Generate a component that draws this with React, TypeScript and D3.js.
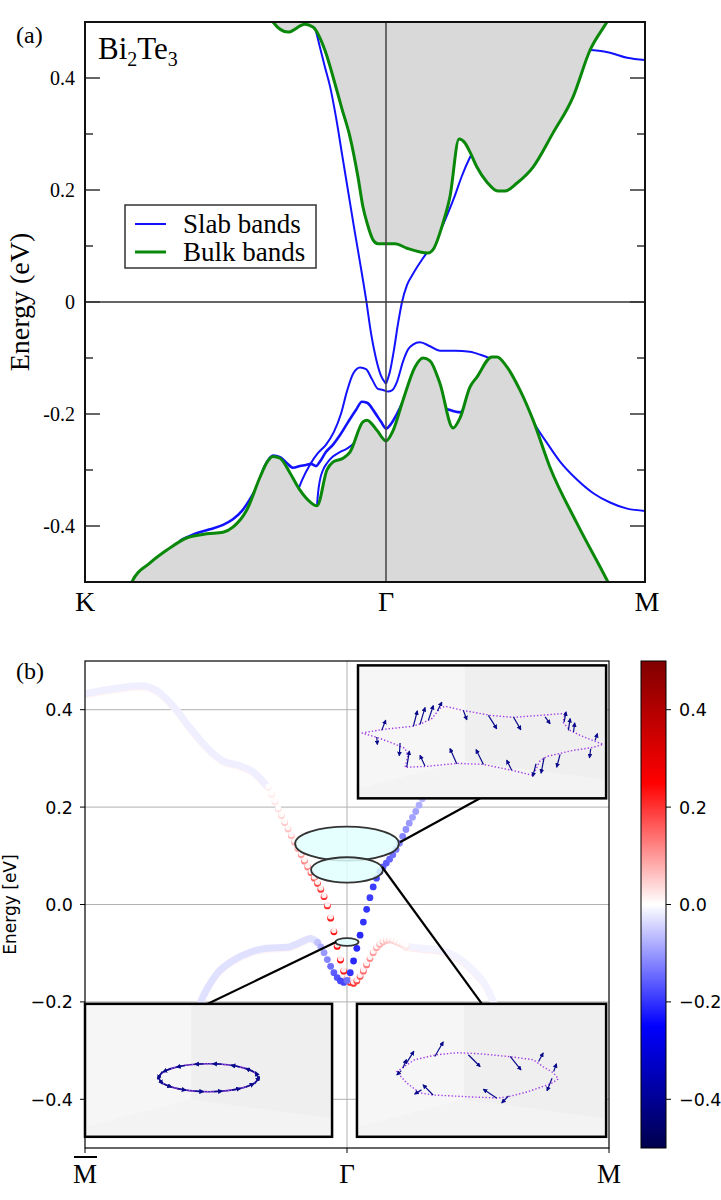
import React, { useEffect, useRef } from "react";
import * as d3 from "d3";

type Pt = [number, number];

// ---------- (a) slab vs bulk bands; k along K-Γ-M in units of |ΓM| ----------
const kPosA = [-1.162, 0, 1];
const kNamesA = ["K", "Γ", "M"];
const eMajorA = [0.4, 0.2, 0, -0.2, -0.4];
const eMajorLabelsA = ["0.4", "0.2", "0", "-0.2", "-0.4"];
const eMinorA = [0.3, 0.1, -0.1, -0.3];
const legendNames = ["Slab bands", "Bulk bands"];

const bulkCB: Pt[] = [
  [-0.45, 0.53], [-0.436, 0.5], [-0.378, 0.482], [-0.313, 0.496], [-0.282, 0.491],
  [-0.236, 0.45], [-0.197, 0.39], [-0.17, 0.345], [-0.139, 0.295], [-0.108, 0.223],
  [-0.089, 0.17], [-0.073, 0.141], [-0.05, 0.111], [-0.031, 0.104], [0, 0.104],
  [0.035, 0.104], [0.081, 0.096], [0.162, 0.0875], [0.181, 0.093], [0.22, 0.141],
  [0.247, 0.188], [0.282, 0.291], [0.305, 0.284], [0.324, 0.268], [0.351, 0.241],
  [0.39, 0.214], [0.432, 0.198], [0.459, 0.198], [0.506, 0.2125], [0.568, 0.241],
  [0.645, 0.302], [0.722, 0.366], [0.788, 0.45], [0.853, 0.5], [0.903, 0.54],
];

const bulkVB: Pt[] = [
  [-1.02, -0.56], [-0.981, -0.5], [-0.911, -0.466], [-0.846, -0.443], [-0.768, -0.421],
  [-0.691, -0.414], [-0.629, -0.411], [-0.591, -0.402], [-0.537, -0.371], [-0.486, -0.3125],
  [-0.459, -0.286], [-0.436, -0.276], [-0.409, -0.279], [-0.371, -0.305], [-0.332, -0.336],
  [-0.293, -0.357], [-0.266, -0.364], [-0.228, -0.3], [-0.205, -0.286], [-0.166, -0.279],
  [-0.139, -0.268], [-0.089, -0.214], [-0.073, -0.211], [-0.035, -0.229], [0, -0.248],
  [0.027, -0.23], [0.066, -0.175], [0.112, -0.116], [0.143, -0.1], [0.17, -0.105],
  [0.208, -0.145], [0.259, -0.225], [0.286, -0.207], [0.324, -0.152], [0.351, -0.134],
  [0.409, -0.098], [0.429, -0.098], [0.467, -0.116], [0.517, -0.157], [0.568, -0.211],
  [0.633, -0.295], [0.737, -0.395], [0.857, -0.5], [0.9, -0.54],
];

const slab1: Pt[] = [
  [-0.32, 0.53], [-0.274, 0.49], [-0.255, 0.455], [-0.236, 0.42], [-0.216, 0.385],
  [-0.193, 0.33], [-0.17, 0.265], [-0.147, 0.2], [-0.124, 0.135], [-0.1, 0.07],
  [-0.077, 0.005], [-0.058, -0.055], [-0.039, -0.1], [-0.019, -0.132], [0, -0.146],
];
const slab2: Pt[] = [
  [0, -0.146], [0.015, -0.125], [0.031, -0.085], [0.046, -0.04], [0.062, 0.0],
  [0.081, 0.03], [0.104, 0.05], [0.131, 0.07], [0.158, 0.088], [0.181, 0.1],
  [0.208, 0.125], [0.236, 0.155], [0.266, 0.19], [0.293, 0.225], [0.324, 0.258],
  [0.351, 0.28], [0.402, 0.3], [0.517, 0.36], [0.653, 0.41], [0.749, 0.44],
  [0.788, 0.45], [0.865, 0.445], [0.931, 0.436], [1.0, 0.432],
];
const slab3: Pt[] = [
  [-0.347, -0.345], [-0.324, -0.318], [-0.293, -0.29], [-0.263, -0.27], [-0.232, -0.255],
  [-0.201, -0.232], [-0.174, -0.2], [-0.151, -0.16], [-0.127, -0.128], [-0.1, -0.117],
  [-0.077, -0.12], [-0.054, -0.138], [-0.031, -0.155], [-0.012, -0.157], [0.008, -0.16],
  [0.023, -0.158], [0.042, -0.143], [0.066, -0.106], [0.085, -0.085], [0.104, -0.076],
  [0.131, -0.072], [0.17, -0.079], [0.208, -0.087], [0.266, -0.087], [0.324, -0.089],
  [0.363, -0.094], [0.402, -0.101], [0.44, -0.112], [0.49, -0.145], [0.544, -0.193],
  [0.583, -0.225], [0.622, -0.252], [0.672, -0.285], [0.737, -0.317], [0.799, -0.341],
  [0.865, -0.358], [0.931, -0.369], [1.0, -0.373],
];
const slab4: Pt[] = [
  [-0.795, -0.426], [-0.737, -0.414], [-0.68, -0.406], [-0.629, -0.398], [-0.591, -0.388],
  [-0.556, -0.373], [-0.525, -0.352], [-0.498, -0.33], [-0.467, -0.292], [-0.436, -0.274],
  [-0.409, -0.277], [-0.382, -0.288], [-0.359, -0.296], [-0.332, -0.293], [-0.309, -0.291],
  [-0.29, -0.289], [-0.27, -0.293], [-0.255, -0.285], [-0.232, -0.268], [-0.205, -0.255],
  [-0.178, -0.238], [-0.147, -0.215], [-0.116, -0.193], [-0.093, -0.178], [-0.073, -0.18],
  [-0.042, -0.198], [-0.019, -0.214], [0, -0.226], [0.019, -0.218], [0.042, -0.2],
  [0.066, -0.178], [0.093, -0.158], [0.131, -0.152], [0.17, -0.165], [0.208, -0.185],
  [0.247, -0.193], [0.286, -0.197], [0.313, -0.185], [0.351, -0.18], [0.402, -0.2],
  [0.45, -0.24],
];
const slab5: Pt[] = [
  [-0.266, -0.362], [-0.262, -0.34], [-0.255, -0.318], [-0.243, -0.3], [-0.228, -0.288],
  [-0.205, -0.276], [-0.178, -0.268], [-0.151, -0.262], [-0.12, -0.25], [-0.1, -0.235],
];

// ---------- (b) spin-resolved slab bands along M̄-Γ-M ----------
const kPosB = [-1, 0, 1];
const kNamesB = ["M", "Γ", "M"];
const eTicksB = [0.4, 0.2, 0, -0.2, -0.4];
const eLabelsB = ["0.4", "0.2", "0.0", "−0.2", "−0.4"];
const spinTicks = [0.4, 0.2, 0, -0.2, -0.4];
const spinLabels = ["0.4", "0.2", "0.0", "−0.2", "−0.4"];

const faintUpperLeft: Pt[] = [
  [-1.0, 0.433], [-0.893, 0.443], [-0.79, 0.449], [-0.725, 0.439], [-0.664, 0.408],
  [-0.599, 0.363], [-0.534, 0.322], [-0.473, 0.295], [-0.408, 0.285], [-0.359, 0.273],
  [-0.305, 0.243],
];
const faintLowerLeft: Pt[] = [
  [-0.588, -0.25], [-0.561, -0.203], [-0.531, -0.17], [-0.496, -0.142], [-0.435, -0.115],
  [-0.37, -0.098], [-0.305, -0.09], [-0.229, -0.088], [-0.179, -0.078], [-0.141, -0.07],
  [-0.111, -0.078],
];
const faintLowerRight: Pt[] = [
  [0.225, -0.086], [0.29, -0.09], [0.355, -0.094], [0.42, -0.108], [0.481, -0.135],
  [0.534, -0.17], [0.557, -0.197], [0.584, -0.23], [0.62, -0.27],
];
const faintSpin = [-0.016, -0.03, -0.012];
const faintPartnerSpin = [0.012, 0.01, 0.018];

const redK = [
  -0.3, -0.2875, -0.275, -0.2625, -0.25, -0.2375, -0.225, -0.2125, -0.2, -0.1875,
  -0.175, -0.1625, -0.15, -0.1375, -0.125, -0.1125, -0.1, -0.0875, -0.075, -0.0625,
  -0.05, -0.0375, -0.025, -0.0125, 0, 0.0125, 0.025, 0.0375, 0.05, 0.0625,
  0.075, 0.0875, 0.1, 0.1125, 0.125, 0.1375, 0.15, 0.1625, 0.175, 0.1875,
  0.2, 0.2125, 0.225,
];
const redE = [
  0.24, 0.226, 0.211, 0.196, 0.182, 0.168, 0.155, 0.141, 0.128, 0.115,
  0.102, 0.089, 0.077, 0.065, 0.054, 0.043, 0.031, 0.016, -0.003, -0.028,
  -0.056, -0.086, -0.114, -0.137, -0.152, -0.16, -0.162, -0.157, -0.148, -0.137,
  -0.124, -0.111, -0.099, -0.089, -0.082, -0.077, -0.074, -0.073, -0.074, -0.077,
  -0.08, -0.083, -0.086,
];
const redS = [
  0.015, 0.02, 0.025, 0.03, 0.04, 0.05, 0.06, 0.07, 0.08, 0.09,
  0.1, 0.12, 0.13, 0.15, 0.16, 0.18, 0.19, 0.2, 0.21, 0.22,
  0.23, 0.24, 0.24, 0.23, 0.22, 0.21, 0.2, 0.18, 0.16, 0.15,
  0.13, 0.12, 0.1, 0.09, 0.08, 0.07, 0.06, 0.05, 0.045, 0.04,
  0.035, 0.03, 0.025,
];

const blueK = [
  -0.1125, -0.1, -0.0875, -0.075, -0.0625, -0.05, -0.0375, -0.025, -0.0125, 0,
  0.0125, 0.025, 0.0375, 0.05, 0.0625, 0.075, 0.0875, 0.1, 0.1125, 0.125,
  0.1375, 0.15, 0.1625, 0.175, 0.1875, 0.2, 0.2125, 0.225, 0.2375, 0.25,
  0.2625, 0.275, 0.2875, 0.3,
];
const blueE = [
  -0.078, -0.087, -0.099, -0.113, -0.127, -0.14, -0.15, -0.157, -0.16, -0.156,
  -0.14, -0.116, -0.09, -0.063, -0.036, -0.01, 0.014, 0.036, 0.054, 0.067,
  0.077, 0.085, 0.093, 0.102, 0.113, 0.126, 0.14, 0.154, 0.167, 0.179,
  0.191, 0.204, 0.217, 0.231,
];
const blueS = [
  -0.06, -0.08, -0.1, -0.12, -0.14, -0.16, -0.17, -0.18, -0.18, -0.14,
  -0.2, -0.21, -0.21, -0.21, -0.2, -0.2, -0.19, -0.19, -0.18, -0.17,
  -0.16, -0.16, -0.15, -0.14, -0.13, -0.12, -0.12, -0.11, -0.1, -0.09,
  -0.09, -0.08, -0.07, -0.06,
];

// constant-energy cuts marked on the cone
const cutE = [0.125, 0.071, -0.077];
const cutHalfK = [0.198, 0.137, 0.044];
const cutHalfE = [0.035, 0.026, 0.008];
const cutFrom: Pt[] = [[0.202, 0.128], [0.134, 0.077], [-0.042, -0.077]];
const cutTo: Pt[] = [[0.508, 0.218], [0.515, -0.204], [-0.531, -0.204]];

// inset spin textures (inset-local kx, ky)
const contourHigh: Pt[] = [
  [-0.97, -0.01], [-0.798, 0.02], [-0.565, 0.044], [-0.484, 0.069], [-0.403, 0.109],
  [-0.339, 0.19], [-0.298, 0.206], [-0.153, 0.173], [0.065, 0.133], [0.25, 0.117],
  [0.468, 0.133], [0.669, 0.149], [0.653, 0.077], [0.71, 0.012], [0.79, -0.028],
  [0.976, -0.101], [0.895, -0.125], [0.734, -0.149], [0.524, -0.198], [0.468, -0.23],
  [0.411, -0.351], [0.242, -0.31], [0.008, -0.262], [-0.202, -0.254], [-0.444, -0.278],
  [-0.621, -0.286], [-0.597, -0.19], [-0.621, -0.133], [-0.718, -0.093], [-0.847, -0.044],
];
const arrowsHigh: [number, number, number, number][] = [
  [-0.809, 0.012, -0.777, 0.093], [-0.849, -0.042, -0.844, -0.101], [-0.554, 0.044, -0.522, 0.168],
  [-0.5, 0.06, -0.46, 0.195], [-0.433, 0.093, -0.393, 0.211], [-0.36, 0.168, -0.325, 0.238],
  [-0.661, -0.09, -0.667, -0.19], [-0.607, -0.284, -0.586, -0.155], [-0.46, -0.276, -0.5, -0.19],
  [-0.204, -0.257, -0.258, -0.136], [0.011, -0.262, -0.048, -0.144], [0.239, -0.31, 0.199, -0.23],
  [-0.151, 0.173, -0.123, 0.098], [0.051, 0.133, 0.118, 0.026], [0.253, 0.12, 0.312, 0.018],
  [0.508, 0.12, 0.548, 0.066], [0.661, 0.079, 0.677, 0.16], [0.696, 0.012, 0.71, 0.106],
  [0.737, -0.001, 0.747, 0.071], [0.911, -0.069, 0.93, -0.015], [0.876, -0.136, 0.866, -0.208],
  [0.435, -0.257, 0.409, -0.359], [0.5, -0.208, 0.476, -0.332], [0.629, -0.181, 0.602, -0.284],
];
const contourMid: Pt[] = [
  [-0.681, -0.012], [-0.601, 0.044], [-0.536, 0.085], [-0.359, 0.125], [-0.198, 0.141],
  [-0.012, 0.133], [0.23, 0.109], [0.415, 0.085], [0.496, 0.028], [0.577, -0.02],
  [0.617, -0.069], [0.552, -0.109], [0.367, -0.173], [0.206, -0.214], [0.133, -0.222],
  [-0.069, -0.214], [-0.391, -0.198], [-0.496, -0.181], [-0.601, -0.101],
];
const arrowsMid: [number, number, number, number][] = [
  [-0.603, 0.058, -0.544, 0.152], [-0.631, 0.018, -0.603, 0.085], [-0.375, 0.111, -0.308, 0.227],
  [-0.106, 0.125, -0.012, 0.031], [0.23, 0.111, 0.316, 0.004], [0.458, 0.071, 0.494, 0.139],
  [0.579, -0.01, 0.601, 0.052], [0.566, -0.063, 0.526, -0.163], [-0.644, -0.002, -0.679, -0.036],
  [-0.389, -0.198, -0.469, -0.117], [0.123, -0.224, 0.015, -0.152], [0.216, -0.206, 0.163, -0.26],
  [-0.482, -0.157, -0.536, -0.19],
];
const ringLow = { cx: 0, cy: -0.06, rx: 0.4, ry: 0.113 };
const arrowAnglesLow = [8, 33, 57, 80, 101, 124, 147, 170, 191, 214, 237, 259, 281, 304, 327, 349];

export default function App() {
  const svgRef = useRef<SVGSVGElement | null>(null);

  useEffect(() => {
    const svg = d3.select(svgRef.current);
    svg.selectAll("*").remove();
    const serif = "'Liberation Serif', 'Times New Roman', serif";
    const sans = "'DejaVu Sans', Verdana, sans-serif";
    const defs = svg.append("defs");

    // ================= panel (a) =================
    const xa = d3.scaleLinear().domain([-1.162, 1]).range([85, 645]);
    const ya = d3.scaleLinear().domain([-0.5, 0.5]).range([582, 22]);
    defs.append("clipPath").attr("id", "clip-a").append("rect")
      .attr("x", 85).attr("y", 22).attr("width", 560).attr("height", 560);

    const plotA = svg.append("g").attr("clip-path", "url(#clip-a)");
    const lineA = d3.line<Pt>().x(d => xa(d[0])).y(d => ya(d[1])).curve(d3.curveMonotoneX);

    [slab1, slab2, slab3, slab4, slab5].forEach((b, i) => {
      plotA.append("path").attr("d", lineA(b)).attr("fill", "none")
        .attr("stroke", "#1212ff").attr("stroke-width", i === 3 ? 2.6 : 2);
    });

    const areaTop = d3.area<Pt>().x(d => xa(d[0])).y0(22).y1(d => ya(d[1])).curve(d3.curveMonotoneX);
    const areaBot = d3.area<Pt>().x(d => xa(d[0])).y0(582).y1(d => ya(d[1])).curve(d3.curveMonotoneX);
    plotA.append("path").attr("d", areaTop(bulkCB)).attr("fill", "#d9d9d9");
    plotA.append("path").attr("d", areaBot(bulkVB)).attr("fill", "#d9d9d9");
    [bulkCB, bulkVB].forEach(b => {
      plotA.append("path").attr("d", lineA(b)).attr("fill", "none")
        .attr("stroke", "#0a880a").attr("stroke-width", 3).attr("stroke-linejoin", "round");
    });

    plotA.append("line").attr("x1", 85).attr("x2", 645).attr("y1", ya(0)).attr("y2", ya(0))
      .attr("stroke", "#333").attr("stroke-width", 1.5);
    plotA.append("line").attr("x1", xa(0)).attr("x2", xa(0)).attr("y1", 22).attr("y2", 582)
      .attr("stroke", "#444").attr("stroke-width", 1.5);

    const axA = svg.append("g");
    eMajorA.forEach(e => {
      axA.append("line").attr("x1", 85).attr("x2", 100).attr("y1", ya(e)).attr("y2", ya(e)).attr("stroke", "#333").attr("stroke-width", 1.5);
      axA.append("line").attr("x1", 630).attr("x2", 645).attr("y1", ya(e)).attr("y2", ya(e)).attr("stroke", "#333").attr("stroke-width", 1.5);
    });
    eMinorA.forEach(e => {
      axA.append("line").attr("x1", 85).attr("x2", 93).attr("y1", ya(e)).attr("y2", ya(e)).attr("stroke", "#333").attr("stroke-width", 1.5);
      axA.append("line").attr("x1", 637).attr("x2", 645).attr("y1", ya(e)).attr("y2", ya(e)).attr("stroke", "#333").attr("stroke-width", 1.5);
    });
    axA.append("rect").attr("x", 85).attr("y", 22).attr("width", 560).attr("height", 560)
      .attr("fill", "none").attr("stroke", "#111").attr("stroke-width", 2);

    eMajorA.forEach((e, i) => {
      axA.append("text").attr("x", 75).attr("y", ya(e) + 7).attr("text-anchor", "end")
        .attr("font-family", serif).attr("font-size", 20).text(eMajorLabelsA[i]);
    });
    kPosA.forEach((k, i) => {
      axA.append("text").attr("x", xa(k) + (i === 2 ? 2 : 0)).attr("y", 611).attr("text-anchor", "middle")
        .attr("font-family", serif).attr("font-size", 28).text(kNamesA[i]);
    });
    axA.append("text").attr("transform", `translate(29,${ya(0)}) rotate(-90)`).attr("text-anchor", "middle")
      .attr("font-family", serif).attr("font-size", 28).text("Energy (eV)");
    axA.append("text").attr("x", 16).attr("y", 43).attr("font-family", serif).attr("font-size", 24).text("(a)");

    const title = axA.append("text").attr("x", 98).attr("y", 59).attr("font-family", serif).attr("font-size", 31);
    title.append("tspan").text("Bi");
    title.append("tspan").attr("font-size", 20).attr("dy", 7).text("2");
    title.append("tspan").attr("dy", -7).text("Te");
    title.append("tspan").attr("font-size", 20).attr("dy", 7).text("3");

    const leg = axA.append("g");
    leg.append("rect").attr("x", 125).attr("y", 205).attr("width", 191).attr("height", 63)
      .attr("fill", "#fff").attr("stroke", "#333").attr("stroke-width", 1.5);
    legendNames.forEach((name, i) => {
      const y = 224 + i * 28;
      leg.append("line").attr("x1", 135).attr("x2", 166).attr("y1", y).attr("y2", y)
        .attr("stroke", i === 0 ? "#1212ff" : "#0a880a").attr("stroke-width", i === 0 ? 2 : 3);
      leg.append("text").attr("x", 183).attr("y", y + 9).attr("font-family", serif).attr("font-size", 27).text(name);
    });

    // ================= panel (b) =================
    const xb = d3.scaleLinear().domain([-1, 1]).range([85, 609]);
    const yb = d3.scaleLinear().domain([-0.5, 0.5]).range([1148, 661]);
    const seismic = d3.scaleLinear<string>()
      .domain([-0.5, -0.25, 0, 0.25, 0.5])
      .range(["#00004d", "#0000ff", "#ffffff", "#ff0000", "#800000"])
      .clamp(true);

    defs.append("clipPath").attr("id", "clip-b").append("rect")
      .attr("x", 85).attr("y", 661).attr("width", 524).attr("height", 487);
    const plotB = svg.append("g").attr("clip-path", "url(#clip-b)");

    eTicksB.forEach(e => {
      plotB.append("line").attr("x1", 85).attr("x2", 609).attr("y1", yb(e)).attr("y2", yb(e))
        .attr("stroke", "#b0b0b0").attr("stroke-width", 1);
    });
    plotB.append("line").attr("x1", xb(0)).attr("x2", xb(0)).attr("y1", 661).attr("y2", 1148)
      .attr("stroke", "#b0b0b0").attr("stroke-width", 1);

    const lineB = d3.line<Pt>().x(d => xb(d[0])).y(d => yb(d[1])).curve(d3.curveMonotoneX);
    [faintUpperLeft, faintLowerLeft, faintLowerRight].forEach((b, i) => {
      plotB.append("path").attr("d", lineB(b)).attr("fill", "none").attr("transform", "translate(0,1.2)")
        .attr("stroke", seismic(faintPartnerSpin[i])).attr("stroke-width", 7).attr("stroke-linecap", "round");
      plotB.append("path").attr("d", lineB(b)).attr("fill", "none")
        .attr("stroke", seismic(faintSpin[i])).attr("stroke-width", 7).attr("stroke-linecap", "round");
    });

    redK.forEach((k, i) => {
      plotB.append("circle").attr("cx", xb(k)).attr("cy", yb(redE[i])).attr("r", 3.4).attr("fill", seismic(redS[i]));
      plotB.append("circle").attr("cx", xb(k)).attr("cy", yb(redE[i]) - 1.3).attr("r", 2.7)
        .attr("fill", "#fff").attr("opacity", 0.92);
    });
    blueK.forEach((k, i) => {
      plotB.append("circle").attr("cx", xb(k)).attr("cy", yb(blueE[i])).attr("r", 3.4).attr("fill", seismic(blueS[i]));
    });

    cutE.forEach((e, i) => {
      plotB.append("ellipse").attr("cx", xb(0)).attr("cy", yb(e))
        .attr("rx", xb(cutHalfK[i]) - xb(0)).attr("ry", yb(0) - yb(cutHalfE[i]))
        .attr("fill", "#e0ffff").attr("fill-opacity", 0.85).attr("stroke", "#333").attr("stroke-width", 1.8);
    });
    cutFrom.forEach((p, i) => {
      plotB.append("line").attr("x1", xb(p[0])).attr("y1", yb(p[1])).attr("x2", xb(cutTo[i][0])).attr("y2", yb(cutTo[i][1]))
        .attr("stroke", "#000").attr("stroke-width", 2.2);
    });

    // arrow marker for spin vectors
    defs.append("marker").attr("id", "spin-head").attr("viewBox", "0 0 10 10")
      .attr("refX", 8).attr("refY", 5).attr("markerWidth", 4).attr("markerHeight", 4).attr("orient", "auto")
      .append("path").attr("d", "M0,0 L10,5 L0,10 z").attr("fill", "#0a0a8c");

    const drawInset = (k0: number, k1: number, e0: number, e1: number,
      draw: (g: d3.Selection<SVGGElement, unknown, null, undefined>, px: d3.ScaleLinear<number, number>, py: d3.ScaleLinear<number, number>) => void) => {
      const x0 = xb(k0), x1 = xb(k1), y0 = yb(e1), y1 = yb(e0);
      const w = x1 - x0, h = y1 - y0;
      const g = svg.append("g");
      g.append("rect").attr("x", x0).attr("y", y0).attr("width", w).attr("height", h).attr("fill", "#efefef");
      g.append("polygon").attr("fill", "#f6f6f6").attr("points",
        [[x0, y0], [x0 + 0.43 * w, y0], [x0 + 0.43 * w, y0 + 0.72 * h], [x0, y0 + 0.93 * h]].map(p => p.join(",")).join(" "));
      g.append("polygon").attr("fill", "#f3f3f3").attr("points",
        [[x0, y0 + 0.93 * h], [x0 + 0.43 * w, y0 + 0.72 * h], [x1, y0 + 0.86 * h], [x1, y1], [x0, y1]].map(p => p.join(",")).join(" "));
      const half = h / w;
      const px = d3.scaleLinear().domain([-1, 1]).range([x0, x1]);
      const py = d3.scaleLinear().domain([-half, half]).range([y1, y0]);
      draw(g, px, py);
      g.append("rect").attr("x", x0).attr("y", y0).attr("width", w).attr("height", h)
        .attr("fill", "none").attr("stroke", "#000").attr("stroke-width", 2.5);
    };

    const drawTexture = (contour: Pt[], arrows: [number, number, number, number][]) =>
      (g: d3.Selection<SVGGElement, unknown, null, undefined>, px: d3.ScaleLinear<number, number>, py: d3.ScaleLinear<number, number>) => {
        const ln = d3.line<Pt>().x(d => px(d[0])).y(d => py(d[1])).curve(d3.curveLinearClosed);
        g.append("path").attr("d", ln(contour)).attr("fill", "none")
          .attr("stroke", "#a43ee6").attr("stroke-width", 1.4).attr("stroke-dasharray", "1.4 2");
        arrows.forEach(a => {
          g.append("line").attr("x1", px(a[0])).attr("y1", py(a[1])).attr("x2", px(a[2])).attr("y2", py(a[3]))
            .attr("stroke", "#0a0a8c").attr("stroke-width", 1.2).attr("marker-end", "url(#spin-head)");
        });
      };

    drawInset(0.042, 0.989, 0.218, 0.491, drawTexture(contourHigh, arrowsHigh));
    drawInset(0.038, 0.989, -0.477, -0.204, drawTexture(contourMid, arrowsMid));
    drawInset(-1.0, -0.057, -0.477, -0.204, (g, px, py) => {
      const { cx, cy, rx, ry } = ringLow;
      g.append("ellipse").attr("cx", px(cx)).attr("cy", py(cy)).attr("rx", px(rx) - px(0)).attr("ry", py(0) - py(ry))
        .attr("fill", "none").attr("stroke", "#3a1aa8").attr("stroke-width", 1.6);
      g.append("ellipse").attr("cx", px(cx)).attr("cy", py(cy)).attr("rx", px(rx) - px(0)).attr("ry", py(0) - py(ry))
        .attr("fill", "none").attr("stroke", "#b050f0").attr("stroke-width", 1.2).attr("stroke-dasharray", "1.4 1.6");
      arrowAnglesLow.forEach(deg => {
        const a = (deg * Math.PI) / 180;
        const bx = cx + rx * Math.cos(a), by = cy + ry * Math.sin(a);
        const tx = -rx * Math.sin(a), ty = ry * Math.cos(a);
        const n = Math.hypot(tx, ty);
        const L = 0.035;
        g.append("line")
          .attr("x1", px(bx - (tx / n) * L)).attr("y1", py(by - (ty / n) * L))
          .attr("x2", px(bx + (tx / n) * L)).attr("y2", py(by + (ty / n) * L))
          .attr("stroke", "#0a0a8c").attr("stroke-width", 1.3).attr("marker-end", "url(#spin-head)");
      });
    });

    const axB = svg.append("g");
    axB.append("rect").attr("x", 85).attr("y", 661).attr("width", 524).attr("height", 487)
      .attr("fill", "none").attr("stroke", "#000").attr("stroke-width", 1.2);
    eTicksB.forEach((e, i) => {
      axB.append("line").attr("x1", 80).attr("x2", 85).attr("y1", yb(e)).attr("y2", yb(e)).attr("stroke", "#000").attr("stroke-width", 1);
      axB.append("text").attr("x", 73).attr("y", yb(e) + 6.5).attr("text-anchor", "end")
        .attr("font-family", sans).attr("font-size", 17.5).text(eLabelsB[i]);
    });
    kPosB.forEach((k, i) => {
      axB.append("line").attr("x1", xb(k)).attr("x2", xb(k)).attr("y1", 1148).attr("y2", 1153).attr("stroke", "#000").attr("stroke-width", 1);
      axB.append("text").attr("x", xb(k)).attr("y", 1183).attr("text-anchor", "middle")
        .attr("font-family", serif).attr("font-size", 27).text(kNamesB[i]);
    });
    axB.append("line").attr("x1", xb(-1) - 11).attr("x2", xb(-1) + 12).attr("y1", 1157).attr("y2", 1157)
      .attr("stroke", "#000").attr("stroke-width", 2);
    axB.append("text").attr("transform", `translate(16,${yb(0)}) rotate(-90)`).attr("text-anchor", "middle")
      .attr("font-family", sans).attr("font-size", 17).text("Energy [eV]");
    axB.append("text").attr("x", 16).attr("y", 679).attr("font-family", serif).attr("font-size", 24).text("(b)");

    // colorbar
    const grad = defs.append("linearGradient").attr("id", "seismic-bar").attr("x1", 0).attr("y1", 0).attr("x2", 0).attr("y2", 1);
    [0.5, 0.25, 0, -0.25, -0.5].forEach((v, i) => {
      grad.append("stop").attr("offset", i / 4).attr("stop-color", seismic(v));
    });
    const ys = d3.scaleLinear().domain([-0.5, 0.5]).range([1148, 661]);
    axB.append("rect").attr("x", 641).attr("y", 661).attr("width", 25).attr("height", 487)
      .attr("fill", "url(#seismic-bar)").attr("stroke", "#000").attr("stroke-width", 1);
    spinTicks.forEach((s, i) => {
      axB.append("line").attr("x1", 666).attr("x2", 671).attr("y1", ys(s)).attr("y2", ys(s)).attr("stroke", "#000").attr("stroke-width", 1);
      axB.append("text").attr("x", 679).attr("y", ys(s) + 6.5).attr("font-family", sans).attr("font-size", 17.5).text(spinLabels[i]);
    });
  }, []);

  return (
    <svg ref={svgRef} width={721} height={1200}
      style={{ position: "absolute", left: 0, top: 0, background: "#fff" }} />
  );
}
